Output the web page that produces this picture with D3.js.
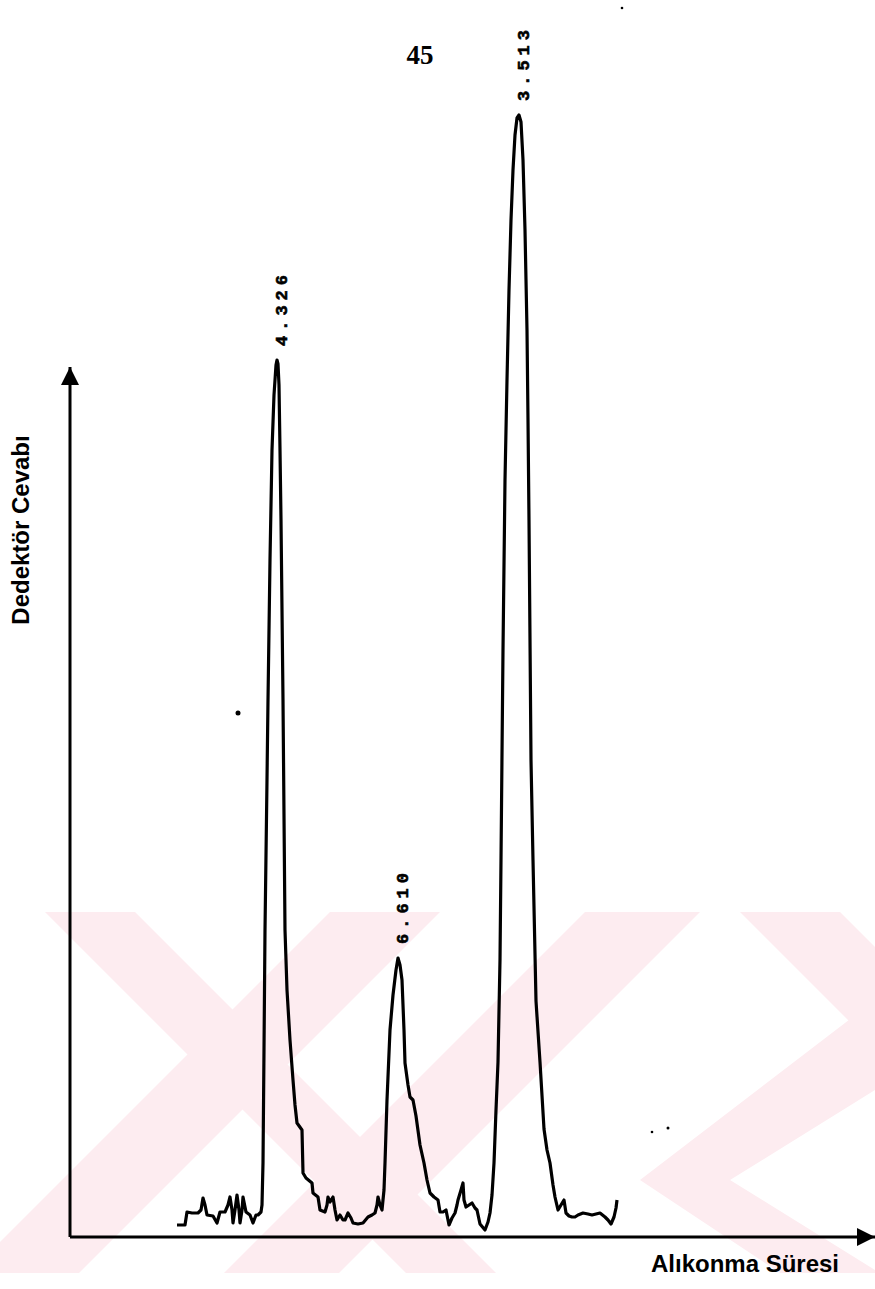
<!DOCTYPE html>
<html>
<head>
<meta charset="utf-8">
<script src="https://cdn.jsdelivr.net/npm/d3@7"></script>
<style>
  body { margin: 0; background: #fff; }
  svg { display: block; }
</style>
</head>
<body>
<svg id="chart"></svg>
<script>
// Mida del dibuix
var width = 875, height = 1289;

// Dades del cromatograma (temps, resposta del detector)
var time = [10.7, 11.5, 11.7, 12.2, 12.8, 13.1, 13.3, 13.5, 13.7, 14.3, 14.7, 15.0, 15.5, 15.8, 16.0, 16.2, 16.3, 16.5, 16.7, 16.9,
  17.0, 17.2, 17.3, 17.6, 18.0, 18.3, 18.6, 18.8, 19.1, 19.2, 19.3, 19.4, 19.5, 19.7, 19.8, 20.0, 20.2, 20.4, 20.6, 20.7,
  20.8, 20.9, 21.0, 21.1, 21.3, 21.5, 21.7, 22.0, 22.3, 22.5, 22.7, 23.2, 23.3, 23.6, 24.2, 24.3, 24.8, 25.0, 25.5, 25.7,
  25.8, 26.0, 26.3, 26.5, 26.7, 27.0, 27.3, 27.5, 27.8, 28.1, 28.3, 28.8, 29.3, 29.8, 30.2, 30.5, 30.7, 30.8, 31.0, 31.2,
  31.4, 31.5, 31.7, 32.0, 32.3, 32.6, 32.8, 33.0, 33.2, 33.4, 33.5, 33.8, 34.0, 34.3, 34.6, 35.0, 35.4, 35.7, 36.0, 36.4,
  36.8, 37.0, 37.3, 37.6, 37.9, 38.2, 38.5, 38.7, 38.8, 39.1, 39.3, 39.4, 39.6, 39.9, 40.2, 40.5, 40.7, 41.0, 41.5, 41.8,
  42.0, 42.2, 42.4, 42.6, 42.8, 43.0, 43.1, 43.3, 43.5, 43.7, 43.9, 44.1, 44.3, 44.5, 44.7, 44.9, 45.1, 45.3, 45.5, 45.7,
  45.8, 45.9, 46.0, 46.1, 46.3, 46.6, 47.0, 47.4, 47.7, 48.0, 48.3, 48.5, 48.8, 49.1, 49.4, 49.6, 49.9, 50.2, 50.5, 50.8,
  51.3, 51.8, 52.2, 52.6, 53.0, 53.5, 53.8, 54.1, 54.4, 54.6, 54.7];

var signal = [12, 12, 25, 24, 24, 27, 39, 32, 22, 21, 14, 25, 25, 32, 40, 27, 14, 27, 42, 27,
  14, 27, 40, 25, 22, 14, 22, 22, 25, 32, 74, 187, 307, 457, 537, 677, 787, 842, 872, 877,
  873, 852, 787, 717, 537, 307, 247, 197, 157, 132, 114, 107, 64, 59, 54, 44, 40, 27, 25, 32,
  40, 35, 40, 27, 17, 22, 17, 17, 24, 19, 14, 13, 14, 20, 22, 24, 32, 40, 32, 27,
  47, 74, 137, 207, 242, 267, 279, 272, 257, 207, 174, 152, 140, 137, 121, 92, 74, 57, 44, 40,
  37, 25, 25, 27, 12, 19, 24, 32, 37, 47, 54, 37, 30, 32, 34, 29, 27, 13, 7, 15,
  24, 42, 74, 127, 175, 277, 377, 587, 757, 857, 947, 1017, 1067, 1102, 1119, 1122, 1115, 1077, 1007, 907,
  817, 717, 597, 477, 377, 236, 175, 108, 87, 74, 52, 40, 27, 32, 37, 24, 21, 20, 20, 22,
  24, 23, 22, 23, 24, 20, 17, 13, 20, 29, 37];

// Pics etiquetats (temps del pic i text imprès)
var peakTimes = [20.7, 32.8, 44.9];
var peakLabels = ["4.326", "6.610", "3.513"];

// Taques de l'escaneig
var spotTimes = [16.8, 58.2, 59.8, 55.2];
var spotSignals = [524, 105, 109, 1229];
var spotSizes = [2.5, 1.3, 1.5, 1.3];

// Textos
var pageNumber = "45";
var yTitle = "Dedektör Cevabı";
var xTitle = "Alıkonma Süresi";

// Escales
var x = d3.scaleLinear().domain([0, 80]).range([70, 870]);
var y = d3.scaleLinear().domain([0, 870]).range([1237, 367]);

var svg = d3.select("#chart")
  .attr("width", width)
  .attr("height", height)
  .style("font-family", "'Liberation Sans', Arial, sans-serif");

var defs = svg.append("defs");

// Marca d'aigua rosa (fons)
defs.append("clipPath").attr("id", "wmclip")
  .append("rect").attr("x", 0).attr("y", 912).attr("width", width).attr("height", 361);

var bands = [
  [[45, 912], [135, 912], [496, 1273], [406, 1273]],
  [[330, 912], [440, 912], [79, 1273], [-31, 1273]],
  [[585, 912], [700, 912], [339, 1273], [224, 1273]],
  [[740, 912], [840, 912], [1201, 1273], [1101, 1273]],
  [[875, 1000], [875, 1090], [730, 1180], [875, 1270], [875, 1273], [780, 1273], [640, 1180]]
];
svg.append("g")
  .attr("clip-path", "url(#wmclip)")
  .selectAll("polygon")
  .data(bands)
  .enter().append("polygon")
  .attr("points", d => d.map(p => p.join(",")).join(" "))
  .style("fill", "#fdecf0");

// Fletxes
defs.append("marker")
  .attr("id", "arrow")
  .attr("viewBox", "0 0 10 10")
  .attr("refX", 10).attr("refY", 5)
  .attr("markerWidth", 7).attr("markerHeight", 6)
  .attr("markerUnits", "strokeWidth")
  .attr("orient", "auto")
  .append("path")
  .attr("d", "M0,0 L10,5 L0,10 Z")
  .style("fill", "#000");

// Eixos
svg.append("line")
  .attr("x1", x(0)).attr("y1", y(0))
  .attr("x2", x(0)).attr("y2", y(870))
  .attr("marker-end", "url(#arrow)")
  .style("stroke", "#000").style("stroke-width", 3);

svg.append("line")
  .attr("x1", x(0)).attr("y1", y(0))
  .attr("x2", x(80.5)).attr("y2", y(0))
  .attr("marker-end", "url(#arrow)")
  .style("stroke", "#000").style("stroke-width", 3);

// Traça
var line = d3.line()
  .x(d => x(d[0]))
  .y(d => y(d[1]));

svg.append("path")
  .datum(time.map((t, i) => [t, signal[i]]))
  .attr("d", line)
  .style("fill", "none")
  .style("stroke", "#000")
  .style("stroke-width", 3.2)
  .style("stroke-linejoin", "round");

// Etiquetes dels pics
peakTimes.forEach(function(t, i) {
  var j = d3.minIndex(time, v => Math.abs(v - t));
  var px = x(t) + 5, py = y(signal[j]) - 14;
  svg.append("text")
    .attr("transform", "translate(" + px + "," + py + ") rotate(-90)")
    .attr("dominant-baseline", "central")
    .style("font-family", "'Liberation Mono', 'DejaVu Sans Mono', monospace")
    .style("font-weight", "bold")
    .style("font-size", "17px")
    .style("letter-spacing", "5px")
    .style("stroke", "#000")
    .style("stroke-width", 0.6)
    .text(peakLabels[i]);
});

// Taques
svg.selectAll(".spot")
  .data(spotTimes)
  .enter().append("circle")
  .attr("class", "spot")
  .attr("cx", d => x(d))
  .attr("cy", (d, i) => y(spotSignals[i]))
  .attr("r", (d, i) => spotSizes[i])
  .style("fill", "#000");

// Número de pàgina
svg.append("text")
  .attr("x", 420).attr("y", 64)
  .attr("text-anchor", "middle")
  .style("font-family", "'Liberation Serif', 'Times New Roman', serif")
  .style("font-weight", "bold")
  .style("font-size", "27px")
  .text(pageNumber);

// Títols dels eixos
svg.append("text")
  .attr("transform", "translate(29,530) rotate(-90)")
  .attr("text-anchor", "middle")
  .style("font-weight", "bold")
  .style("font-size", "24px")
  .text(yTitle);

svg.append("text")
  .attr("x", 745).attr("y", 1272)
  .attr("text-anchor", "middle")
  .style("font-weight", "bold")
  .style("font-size", "24px")
  .text(xTitle);
</script>
</body>
</html>
